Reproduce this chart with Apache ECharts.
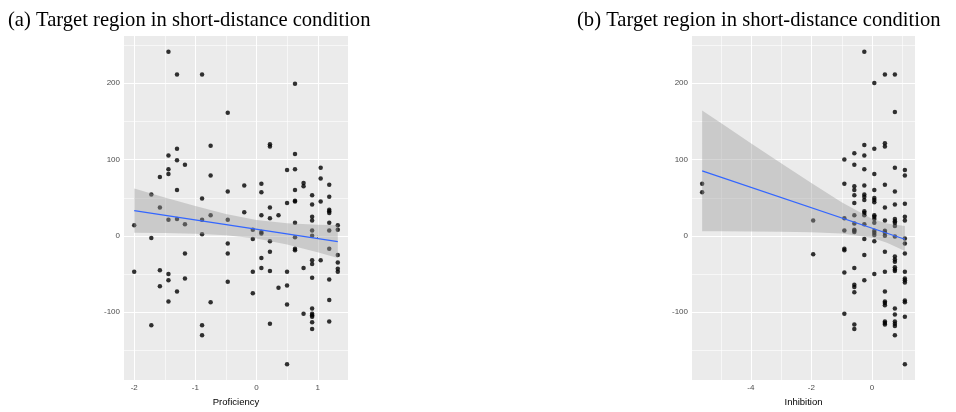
<!DOCTYPE html>
<html>
<head>
<meta charset="utf-8">
<script src="https://cdn.jsdelivr.net/npm/echarts@6/dist/echarts.min.js"></script>
<style>
html,body{margin:0;padding:0;background:#fff;}
#c{width:956px;height:412px;}
</style>
</head>
<body>
<div id="c"></div>
<script>
// ---------- Data ----------
const titleA = '(a) Target region in short-distance condition';
const titleB = '(b) Target region in short-distance condition';
const xNameA = 'Proficiency';
const xNameB = 'Inhibition';

// tick labels / grid lines
const yTicks = [-100, 0, 100, 200];
const yMinor = [-150, -50, 50, 150, 250];
const xTicksA = [-2, -1, 0, 1];
const xMinorA = [-1.5, -0.5, 0.5];
const xTicksB = [-4, -2, 0];
const xMinorB = [-5, -3, -1, 1];

// panel (a): x columns (Proficiency) and the y values in each column
const profCols = [-2.0, -1.72, -1.58, -1.44, -1.30, -1.17, -0.89, -0.75, -0.47, -0.20, -0.06,
                  0.08, 0.22, 0.36, 0.50, 0.63, 0.77, 0.91, 1.05, 1.19, 1.33];
const profVals = [
  [14, -47],
  [54, -3, -117],
  [77, 37, -45, -66],
  [241, 105, 87, 81, 21, -50, -58, -86],
  [211, 114, 99, 60, 22, -73],
  [93, 15, -23, -56],
  [211, 49, 21, 2, -117, -130],
  [118, 79, 27, -87],
  [161, 58, 21, -10, -23, -60],
  [66, 31],
  [8, -4, -47, -75],
  [68, 57, 27, 5, 3, -29, -42],
  [120, 117, 37, 23, -7, -21, -46, -115],
  [27, -68],
  [86, 43, -47, -65, -90, -168],
  [199, 107, 87, 60, 46, 45, 17, -2, -17, -19],
  [69, 65, -42, -102],
  [53, 41, 25, 20, 7, 0, -32, -37, -55, -95, -102, -104, -106, -113, -122],
  [89, 75, 45, -32],
  [67, 51, 34, 32, 30, 17, 7, -17, -57, -84, -112],
  [14, 8, -25, -35, -43, -47]
];
// panel (a) fitted line and confidence band
const fitAx = [-2.0, 1.33];
const fitAy = [33, -7.6];
const bandAx = [-2.0, -1.5, -1.0, -0.5, 0, 0.5, 1.0, 1.33];
const bandAhi = [62, 50, 39, 28.6, 20.8, 16.4, 14.4, 14];
const bandAlo = [4, 3.6, 2.8, 0.8, -3.6, -11.4, -21.6, -29];

// panel (b): x columns (Inhibition) and the y values in each column
const inhCols = [-5.61, -1.94, -0.91, -0.58, -0.25, 0.08, 0.43, 0.76, 1.09];
const inhVals = [
  [68, 57],
  [20, -24],
  [100, 68, 23, 7, -17, -19, -48, -102],
  [108, 93, 65, 60, 53, 43, 27, 16, 8, 6.5, 5, -42, -64, -67, -74, -116, -122],
  [241, 119, 105, 87, 66, 54, 51, 47, 32, 30, 27, 15, -4, -25, -58],
  [200, 114, 81, 60, 49.5, 47, 44, 27, 25, 22, 17, 6.5, 4, 1, -7, -50],
  [211, 121, 117, 67, 37, 20, 6.5, 4, 0, -21, -47, -73, -86, -88, -91, -112, -114, -116],
  [211, 162, 89, 58, 41, 22, 19, 17, 13, -1, -27, -31, -34, -41, -44, -46, -95, -103, -112, -115, -118, -130],
  [86, 79, 42, 25, 20, -3.5, -10, -23, -47, -56, -58, -61, -84.5, -87, -106, -168]
];
const fitBx = [-5.61, 1.09];
const fitBy = [85, -4.5];
const bandBx = [-5.61, -5, -4, -3, -2, -1, 0, 0.5, 1.09];
const bandBhi = [164, 148, 121, 95, 69, 44, 22.5, 16, 13];
const bandBlo = [6, 6, 5.7, 5.2, 4.6, 3, -2.4, -9, -20];

// axis ranges
const yRange = [-188.8, 261.5];
const xRangeA = [-2.167, 1.497];
const xRangeB = [-5.945, 1.425];

// ---------- Helpers ----------
function pairs(cols, vals) {
  const out = [];
  cols.forEach((c, i) => vals[i].forEach(v => out.push([c, v])));
  return out;
}
function zip(a, b) { return a.map((v, i) => [v, b[i]]); }

function gridLineSeries(gi, vMaj, vMin, hMaj, hMin) {
  const data = [];
  vMaj.forEach(v => data.push([v, 0, 0, 1]));
  vMin.forEach(v => data.push([v, 0, 0, 0]));
  hMaj.forEach(v => data.push([0, v, 1, 1]));
  hMin.forEach(v => data.push([0, v, 1, 0]));
  return {
    type: 'custom', xAxisIndex: gi, yAxisIndex: gi, z: 1, silent: true,
    encode: { x: 0, y: 1 }, data,
    renderItem(params, api) {
      const cs = params.coordSys;
      const dir = api.value(2), major = api.value(3);
      let shape;
      if (dir === 0) {
        const x = Math.round(api.coord([api.value(0), 0])[0]) + 0.5;
        shape = { x1: x, y1: cs.y, x2: x, y2: cs.y + cs.height };
      } else {
        const y = Math.round(api.coord([0, api.value(1)])[1]) + 0.5;
        shape = { x1: cs.x, y1: y, x2: cs.x + cs.width, y2: y };
      }
      return { type: 'line', shape, style: { stroke: major ? '#ffffff' : 'rgba(255,255,255,0.6)', lineWidth: 1 } };
    }
  };
}
function bandSeries(gi, bx, lo, hi) {
  return {
    type: 'custom', xAxisIndex: gi, yAxisIndex: gi, z: 4, silent: true,
    encode: { x: 0, y: 1 }, data: [[bx[0], lo[0]]],
    renderItem(params, api) {
      const pts = [];
      for (let i = 0; i < bx.length; i++) pts.push(api.coord([bx[i], hi[i]]));
      for (let i = bx.length - 1; i >= 0; i--) pts.push(api.coord([bx[i], lo[i]]));
      return { type: 'polygon', shape: { points: pts }, style: { fill: 'rgba(153,153,153,0.4)' } };
    }
  };
}
function xAxisCfg(gi, range, ticks, name) {
  return {
    gridIndex: gi, type: 'value', min: range[0], max: range[1],
    name, nameLocation: 'middle', nameGap: 15,
    nameTextStyle: { fontFamily: 'Liberation Sans', fontSize: 9.5, color: '#000' },
    axisLine: { show: false }, splitLine: { show: false },
    axisTick: { show: true, length: 3, customValues: ticks, lineStyle: { color: '#333', width: 0.8 } },
    axisLabel: { customValues: ticks, fontFamily: 'Liberation Sans', fontSize: 8, color: '#4D4D4D', margin: 4 }
  };
}
function yAxisCfg(gi) {
  return {
    gridIndex: gi, type: 'value', min: yRange[0], max: yRange[1],
    axisLine: { show: false }, splitLine: { show: false },
    axisTick: { show: true, length: 3, customValues: yTicks, lineStyle: { color: '#333', width: 0.8 } },
    axisLabel: { customValues: yTicks, fontFamily: 'Liberation Sans', fontSize: 8, color: '#4D4D4D', margin: 4 }
  };
}

const chart = echarts.init(document.getElementById('c'), null, { renderer: 'canvas' });
chart.setOption({
  animation: false,
  backgroundColor: '#ffffff',
  title: [
    { text: titleA, left: 3, top: 5, textStyle: { fontFamily: 'Liberation Serif', fontSize: 20.6, fontWeight: 'normal', color: '#000' } },
    { text: titleB, left: 572, top: 5, textStyle: { fontFamily: 'Liberation Serif', fontSize: 20.6, fontWeight: 'normal', color: '#000' } }
  ],
  grid: [
    { left: 124, top: 36, width: 224, height: 351, show: true, backgroundColor: '#EBEBEB', borderWidth: 0 },
    { left: 692, top: 36, width: 223, height: 348, show: true, backgroundColor: '#EBEBEB', borderWidth: 0 }
  ],
  xAxis: [xAxisCfg(0, xRangeA, xTicksA, xNameA), xAxisCfg(1, xRangeB, xTicksB, xNameB)],
  yAxis: [yAxisCfg(0), yAxisCfg(1)],
  series: [
    gridLineSeries(0, xTicksA, xMinorA, yTicks, yMinor),
    gridLineSeries(1, xTicksB, xMinorB, yTicks, yMinor),
    { type: 'scatter', xAxisIndex: 0, yAxisIndex: 0, z: 3, symbolSize: 4.5, itemStyle: { color: '#000' }, silent: true, data: pairs(profCols, profVals) },
    { type: 'scatter', xAxisIndex: 1, yAxisIndex: 1, z: 3, symbolSize: 4.5, itemStyle: { color: '#000' }, silent: true, data: pairs(inhCols, inhVals) },
    bandSeries(0, bandAx, bandAlo, bandAhi),
    bandSeries(1, bandBx, bandBlo, bandBhi),
    { type: 'line', xAxisIndex: 0, yAxisIndex: 0, z: 5, showSymbol: false, silent: true, lineStyle: { color: '#3366FF', width: 1.2 }, data: zip(fitAx, fitAy) },
    { type: 'line', xAxisIndex: 1, yAxisIndex: 1, z: 5, showSymbol: false, silent: true, lineStyle: { color: '#3366FF', width: 1.2 }, data: zip(fitBx, fitBy) }
  ]
});
</script>
</body>
</html>
